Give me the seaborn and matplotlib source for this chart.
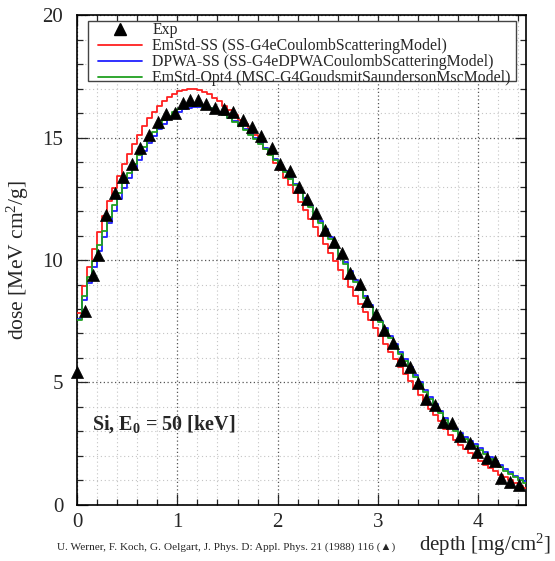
import numpy as np
import pandas as pd
import matplotlib
matplotlib.use("Agg")
import matplotlib.pyplot as plt
from matplotlib.lines import Line2D
from matplotlib.patches import Rectangle
from matplotlib.ticker import MultipleLocator
import seaborn as sns

# ---------------- data ----------------
exp_depth = [0.0, 0.08, 0.16, 0.21, 0.29, 0.38, 0.46, 0.55, 0.63, 0.72, 0.81, 0.89,
             0.98, 1.06, 1.13, 1.21, 1.29, 1.38, 1.47, 1.56, 1.65, 1.74, 1.83, 1.94,
             2.02, 2.12, 2.21, 2.29, 2.38, 2.47, 2.56, 2.64, 2.72, 2.82, 2.89, 2.98,
             3.06, 3.15, 3.23, 3.32, 3.40, 3.48, 3.57, 3.65, 3.74, 3.82, 3.92, 3.99,
             4.09, 4.17, 4.23, 4.32, 4.41]
exp_dose = [5.44, 7.9, 9.4, 10.2, 11.84, 12.72, 13.4, 13.94, 14.56, 15.1, 15.65, 15.95,
            16.02, 16.43, 16.52, 16.55, 16.37, 16.22, 16.15, 16.05, 15.7, 15.42, 15.05, 14.56,
            13.94, 13.62, 13.0, 12.5, 11.9, 11.22, 10.75, 10.27, 9.45, 9.02, 8.33, 7.8,
            7.14, 6.6, 5.92, 5.62, 4.97, 4.32, 4.08, 3.40, 3.33, 2.8, 2.53, 2.18,
            1.93, 1.81, 1.09, 0.95, 0.82]

bin_width = 0.05
n_bins = 90

emstd_ss = [7.85, 8.95, 9.7, 10.45, 11.15, 11.8, 12.4, 12.95, 13.45, 13.92,
            14.35, 14.75, 15.12, 15.47, 15.78, 16.06, 16.3, 16.5, 16.67, 16.8,
            16.9, 16.96, 16.98, 16.97, 16.93, 16.86, 16.76, 16.63, 16.48, 16.31,
            16.13, 15.93, 15.72, 15.55, 15.35, 15.1, 14.83, 14.55, 14.27, 13.98,
            13.68, 13.37, 13.05, 12.72, 12.38, 12.04, 11.69, 11.34, 10.99, 10.64,
            10.29, 9.94, 9.59, 9.24, 8.89, 8.55, 8.21, 7.87, 7.54, 7.21,
            6.89, 6.57, 6.26, 5.95, 5.64, 5.34, 5.05, 4.76, 4.47, 4.19,
            3.92, 3.66, 3.41, 3.1, 2.87, 2.66, 2.46, 2.27, 2.1, 1.94,
            1.79, 1.64, 1.5, 1.37, 1.24, 1.12, 1.0, 0.89, 0.78, 0.67]

dpwa_ss = [7.6, 8.35, 9.05, 9.7, 10.35, 10.95, 11.5, 12.02, 12.5, 12.93,
           13.35, 13.73, 14.1, 14.45, 14.77, 15.07, 15.34, 15.57, 15.77, 15.93,
           16.06, 16.15, 16.21, 16.25, 16.26, 16.24, 16.19, 16.12, 16.03, 15.93,
           15.81, 15.67, 15.51, 15.34, 15.16, 14.97, 14.77, 14.56, 14.34, 14.11,
           13.87, 13.62, 13.36, 13.1, 12.83, 12.52, 12.22, 11.92, 11.6, 11.27,
           10.93, 10.59, 10.25, 9.9, 9.55, 9.2, 8.86, 8.52, 8.18, 7.85,
           7.53, 7.21, 6.9, 6.58, 6.26, 5.94, 5.63, 5.32, 5.01, 4.7,
           4.4, 4.11, 3.83, 3.56, 3.32, 3.11, 2.93, 2.77, 2.62, 2.47,
           2.31, 2.14, 1.96, 1.78, 1.62, 1.47, 1.33, 1.2, 1.08, 0.97]

emstd_opt4 = [7.55, 8.55, 9.3, 9.95, 10.6, 11.2, 11.75, 12.25, 12.72, 13.15,
              13.55, 13.92, 14.28, 14.62, 14.93, 15.22, 15.48, 15.7, 15.89, 16.04,
              16.15, 16.23, 16.28, 16.3, 16.3, 16.26, 16.2, 16.12, 16.02, 15.91,
              15.78, 15.63, 15.47, 15.3, 15.12, 14.93, 14.73, 14.52, 14.3, 14.07,
              13.83, 13.58, 13.32, 13.06, 12.79, 12.45, 12.15, 11.85, 11.53, 11.2,
              10.86, 10.52, 10.17, 9.82, 9.47, 9.12, 8.78, 8.44, 8.1, 7.77,
              7.45, 7.13, 6.82, 6.5, 6.18, 5.86, 5.55, 5.24, 4.93, 4.62,
              4.32, 4.03, 3.75, 3.48, 3.24, 3.03, 2.85, 2.69, 2.54, 2.39,
              2.23, 2.06, 1.88, 1.7, 1.54, 1.39, 1.25, 1.12, 1.0, 0.89]

series_labels = ["EmStd-SS (SS-G4eCoulombScatteringModel)",
                 "DPWA-SS (SS-G4eDPWACoulombScatteringModel)",
                 "EmStd-Opt4 (MSC-G4GoudsmitSaundersonMscModel)"]
series_colors = ["#ff2020", "#2020ff", "#20a020"]

x_ticks = [0, 1, 2, 3, 4]
y_ticks = [0, 5, 10, 15, 20]

# ---------------- style ----------------
sns.set_style("ticks")
plt.rcParams["font.family"] = ["Liberation Serif", "DejaVu Sans"]
plt.rcParams["mathtext.fontset"] = "custom"
plt.rcParams["mathtext.rm"] = "Liberation Serif"
plt.rcParams["mathtext.it"] = "Liberation Serif:italic"
plt.rcParams["mathtext.bf"] = "Liberation Serif:bold"

edges = [round(i * bin_width, 4) for i in range(n_bins + 1)]
centers = [e + bin_width / 2 for e in edges[:-1]]

fig = plt.figure(figsize=(5.55, 5.61), dpi=100)
ax = fig.add_axes([0.139, 0.1, 0.809, 0.873])

for vals, col in zip([emstd_ss, dpwa_ss, emstd_opt4], series_colors):
    df = pd.DataFrame({"depth": centers, "dose": vals})
    sns.histplot(data=df, x="depth", weights="dose", bins=edges, element="step",
                 fill=False, color=col, linewidth=1.3, ax=ax, zorder=3)

sns.scatterplot(x=exp_depth, y=exp_dose, marker="^", s=75, color="black",
                edgecolor="black", linewidth=0.5, ax=ax, zorder=5, clip_on=False)

ax.set_xlim(0, 4.48)
ax.set_ylim(0, 20)
ax.set_xticks(x_ticks)
ax.set_yticks(y_ticks)
ax.xaxis.set_minor_locator(MultipleLocator(0.2))
ax.yaxis.set_minor_locator(MultipleLocator(1))
ax.grid(which="minor", linestyle=(0, (1, 2.5)), color="#c4c4c4", linewidth=0.8)
ax.grid(which="major", linestyle=(0, (1, 2)), color="#555555", linewidth=0.9)
ax.set_axisbelow(True)
ax.tick_params(which="both", direction="in", top=True, right=True, width=0.9)
ax.tick_params(which="major", length=8, labelsize=15)
ax.tick_params(which="minor", length=4)
ax.tick_params(axis="x", which="major", pad=6)
ax.tick_params(axis="y", which="major", pad=10)
for sp in ax.spines.values():
    sp.set_linewidth(1.2)
    sp.set_color("black")

ax.set_xlabel("")
ax.set_ylabel(r"dose [MeV cm$^\mathregular{2}$/g]", fontsize=15.5, labelpad=8)
fig.text(0.993, 0.028, r"depth [mg/cm$^\mathregular{2}$]", fontsize=15,
         ha="right", va="center")
fig.text(0.102, 0.025,
         "U. Werner, F. Koch, G. Oelgart, J. Phys. D: Appl. Phys. 21 (1988) 116 (\u25B2)",
         fontsize=8.1, ha="left", va="center")

ax.text(0.147, 3.3, r"Si, E$_\mathbf{0}$ = 50 [keV]", fontsize=14.5,
        fontweight="bold", ha="left", va="center")

# legend frame drawn separately so the entries can sit tight inside it
frame = Rectangle((0.0245, 0.865), 0.953, 0.123, transform=ax.transAxes,
                  facecolor="white", edgecolor="#444444", linewidth=1.0, zorder=9)
ax.add_patch(frame)

handles = [Line2D([], [], marker="^", color="black", linestyle="none", markersize=8)]
for col in series_colors:
    handles.append(Line2D([], [], color=col, linewidth=1.3))
labels = ["Exp"] + series_labels
leg = ax.legend(handles, labels, loc="upper left",
                bbox_to_anchor=(0.0468, 0.985), fontsize=11.4, frameon=False,
                handlelength=2.78, handletextpad=0.63, labelspacing=0.0,
                borderpad=0.0, borderaxespad=0)
leg.set_zorder(10)

fig.savefig("out.png", dpi=100)
